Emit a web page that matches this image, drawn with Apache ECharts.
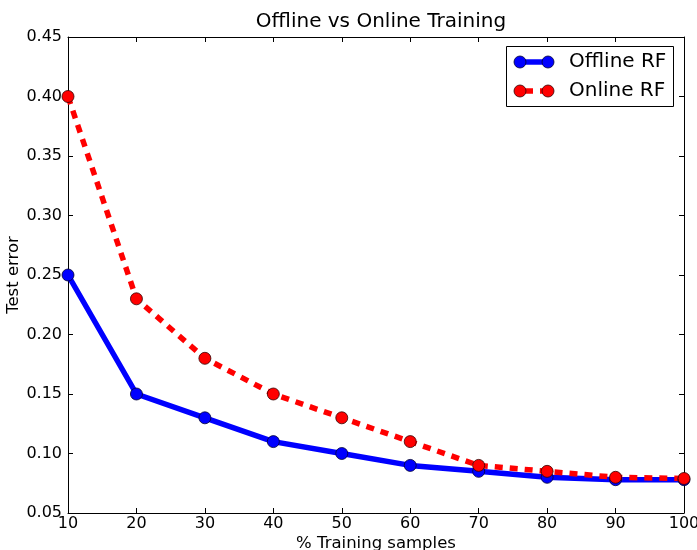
<!DOCTYPE html>
<html>
<head>
<meta charset="utf-8">
<script src="https://cdn.jsdelivr.net/npm/echarts@6/dist/echarts.min.js"></script>
<style>html,body{margin:0;padding:0;background:#fff}#c{width:697px;height:550px}</style>
</head>
<body>
<div id="c"></div>
<script>
const trainingPct = [10, 20, 30, 40, 50, 60, 70, 80, 90, 100];
const offlineRF = [0.25, 0.15, 0.13, 0.11, 0.10, 0.09, 0.085, 0.08, 0.078, 0.078];
const onlineRF = [0.40, 0.23, 0.18, 0.15, 0.13, 0.11, 0.09, 0.085, 0.08, 0.079];
const seriesNames = ['Offline RF', 'Online RF'];

const FONT = 'DejaVu Sans';
const chart = echarts.init(document.getElementById('c'), null, {renderer: 'canvas'});
const axisCommon = {
  axisLine: {lineStyle: {color: '#000', width: 1}},
  axisTick: {inside: true, length: 5, lineStyle: {color: '#000'}},
  splitLine: {show: false}
};
const toPairs = (xs, ys) => xs.map((x, i) => [x, ys[i]]);
const lx = 520, lx2 = 548;
chart.setOption({
  animation: false,
  title: {text: 'Offline vs Online Training', left: 376, top: 7, textAlign: 'center',
    textStyle: {fontFamily: FONT, fontSize: 20, fontWeight: 'normal', color: '#000'}},
  grid: {left: 68, right: 13, top: 37, bottom: 37, containLabel: false, outerBoundsMode: 'none'},
  xAxis: [
    Object.assign({type: 'value', min: 10, max: 100, interval: 10, name: '% Training samples',
      nameLocation: 'middle', nameGap: 22, nameMoveOverlap: false,
      nameTextStyle: {fontFamily: FONT, fontSize: 16.5, color: '#000'},
      axisLabel: {fontFamily: FONT, fontSize: 16, color: '#000', margin: 3, showMaxLabel: true, showMinLabel: true, hideOverlap: false}}, axisCommon),
    Object.assign({type: 'value', min: 10, max: 100, interval: 10, position: 'top',
      axisLabel: {show: false}}, axisCommon)
  ],
  yAxis: [
    Object.assign({type: 'value', min: 0.05, max: 0.45, interval: 0.05, name: 'Test error',
      nameLocation: 'middle', nameGap: 54, nameMoveOverlap: false,
      nameTextStyle: {fontFamily: FONT, fontSize: 16.5, color: '#000', verticalAlign: 'middle'},
      axisLabel: {fontFamily: FONT, fontSize: 16, color: '#000', margin: 6, hideOverlap: false,
        formatter: v => v.toFixed(2)}}, axisCommon),
    Object.assign({type: 'value', min: 0.05, max: 0.45, interval: 0.05, position: 'right',
      axisLabel: {show: false}}, axisCommon)
  ],
  series: [
    {name: seriesNames[0], type: 'line', data: toPairs(trainingPct, offlineRF),
      symbol: 'circle', symbolSize: 12, clip: false,
      lineStyle: {color: '#0000ff', width: 5.5},
      itemStyle: {color: '#0000ff', borderColor: '#000033', borderWidth: 0.8}},
    {name: seriesNames[1], type: 'line', data: toPairs(trainingPct, onlineRF),
      symbol: 'circle', symbolSize: 12, clip: false,
      lineStyle: {color: '#ff0000', width: 5.5, type: [8, 7]},
      itemStyle: {color: '#ff0000', borderColor: '#330000', borderWidth: 0.8}}
  ],
  graphic: [
    {type: 'rect', shape: {x: 506.5, y: 46.5, width: 167, height: 60},
      style: {fill: '#fff', stroke: '#000', lineWidth: 1}, z: 100},
    {type: 'line', shape: {x1: lx, y1: 62, x2: lx2, y2: 62},
      style: {stroke: '#0000ff', lineWidth: 5.5}, z: 101},
    {type: 'circle', shape: {cx: lx, cy: 62, r: 6}, style: {fill: '#0000ff', stroke: '#000033', lineWidth: 0.8}, z: 102},
    {type: 'circle', shape: {cx: lx2, cy: 62, r: 6}, style: {fill: '#0000ff', stroke: '#000033', lineWidth: 0.8}, z: 102},
    {type: 'text', style: {x: 569, y: 62, text: seriesNames[0], fontFamily: FONT, fontSize: 20,
      fill: '#000', verticalAlign: 'middle'}, z: 102},
    {type: 'line', shape: {x1: lx, y1: 91, x2: lx2, y2: 91},
      style: {stroke: '#ff0000', lineWidth: 5.5, lineDash: [8, 7], lineDashOffset: -5}, z: 101},
    {type: 'circle', shape: {cx: lx, cy: 91, r: 6}, style: {fill: '#ff0000', stroke: '#330000', lineWidth: 0.8}, z: 102},
    {type: 'circle', shape: {cx: lx2, cy: 91, r: 6}, style: {fill: '#ff0000', stroke: '#330000', lineWidth: 0.8}, z: 102},
    {type: 'text', style: {x: 569, y: 91, text: seriesNames[1], fontFamily: FONT, fontSize: 20,
      fill: '#000', verticalAlign: 'middle'}, z: 102}
  ]
});
</script>
</body>
</html>
